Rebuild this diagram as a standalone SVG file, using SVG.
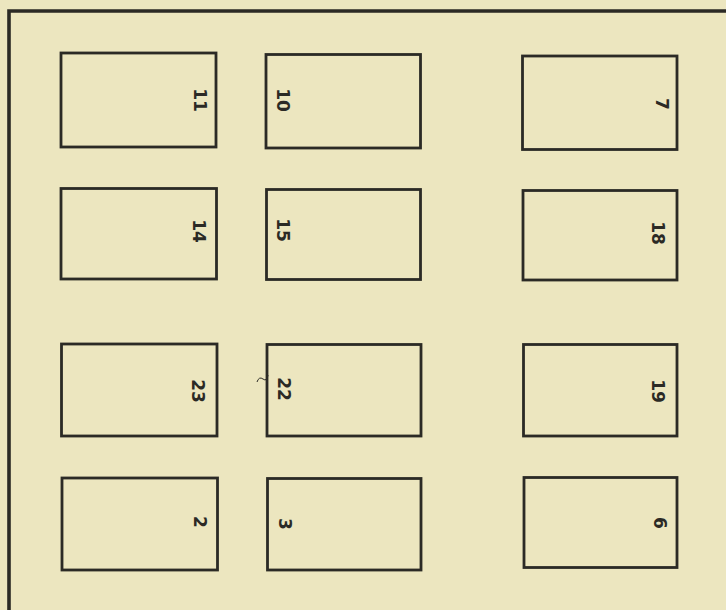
<svg xmlns="http://www.w3.org/2000/svg" width="726" height="610" viewBox="0 0 726 610">
<style>
.bx{fill:none;stroke:#2b2a25;stroke-width:2.8}
.fr{fill:none;stroke:#2b2a25;stroke-width:3.6}
.lb{font-family:"DejaVu Sans",sans-serif;font-weight:bold;font-size:17px;fill:#2b2a25;text-anchor:middle;dominant-baseline:central}
</style>
<rect x="0" y="0" width="726" height="610" fill="#ece6bf"/>
<g id="frame"><path class="fr" d="M9,612 V11 H728"/></g>
<g id="connectors"></g>
<g id="n11"><rect class="bx" x="61" y="53" width="155" height="94"/><text class="lb" transform="translate(200,100) rotate(90)">11</text></g>
<g id="n10"><rect class="bx" x="266" y="54.5" width="154.5" height="93.5"/><text class="lb" transform="translate(283,100) rotate(90)">10</text></g>
<g id="n7"><rect class="bx" x="522.5" y="56" width="154.5" height="93.5"/><text class="lb" transform="translate(662,104) rotate(90)">7</text></g>
<g id="n14"><rect class="bx" x="61" y="188.5" width="155.5" height="90.5"/><text class="lb" transform="translate(199,231) rotate(90)">14</text></g>
<g id="n15"><rect class="bx" x="266.5" y="189.5" width="154" height="90"/><text class="lb" transform="translate(283,230) rotate(90)">15</text></g>
<g id="n18"><rect class="bx" x="523" y="190.5" width="154" height="89.5"/><text class="lb" transform="translate(658,233) rotate(90)">18</text></g>
<g id="n23"><rect class="bx" x="61.5" y="344" width="155.5" height="92"/><text class="lb" transform="translate(198,391) rotate(90)">23</text></g>
<g id="n22"><rect class="bx" x="267" y="344.5" width="154" height="91.5"/><text class="lb" transform="translate(284,389) rotate(90)">22</text><path d="M257,382 q2,-6 6,-3 t5,-4" fill="none" stroke="#2b2a25" stroke-width="1"/></g>
<g id="n19"><rect class="bx" x="523.5" y="344.5" width="153.5" height="91.5"/><text class="lb" transform="translate(658,391) rotate(90)">19</text></g>
<g id="n2"><rect class="bx" x="62" y="478" width="155.5" height="92"/><text class="lb" transform="translate(200,522) rotate(90)">2</text></g>
<g id="n3"><rect class="bx" x="267.5" y="478.5" width="153.5" height="91.5"/><text class="lb" transform="translate(285,524) rotate(90)">3</text></g>
<g id="n6"><rect class="bx" x="524" y="477.5" width="153" height="90"/><text class="lb" transform="translate(660,523) rotate(90)">6</text></g>
</svg>
